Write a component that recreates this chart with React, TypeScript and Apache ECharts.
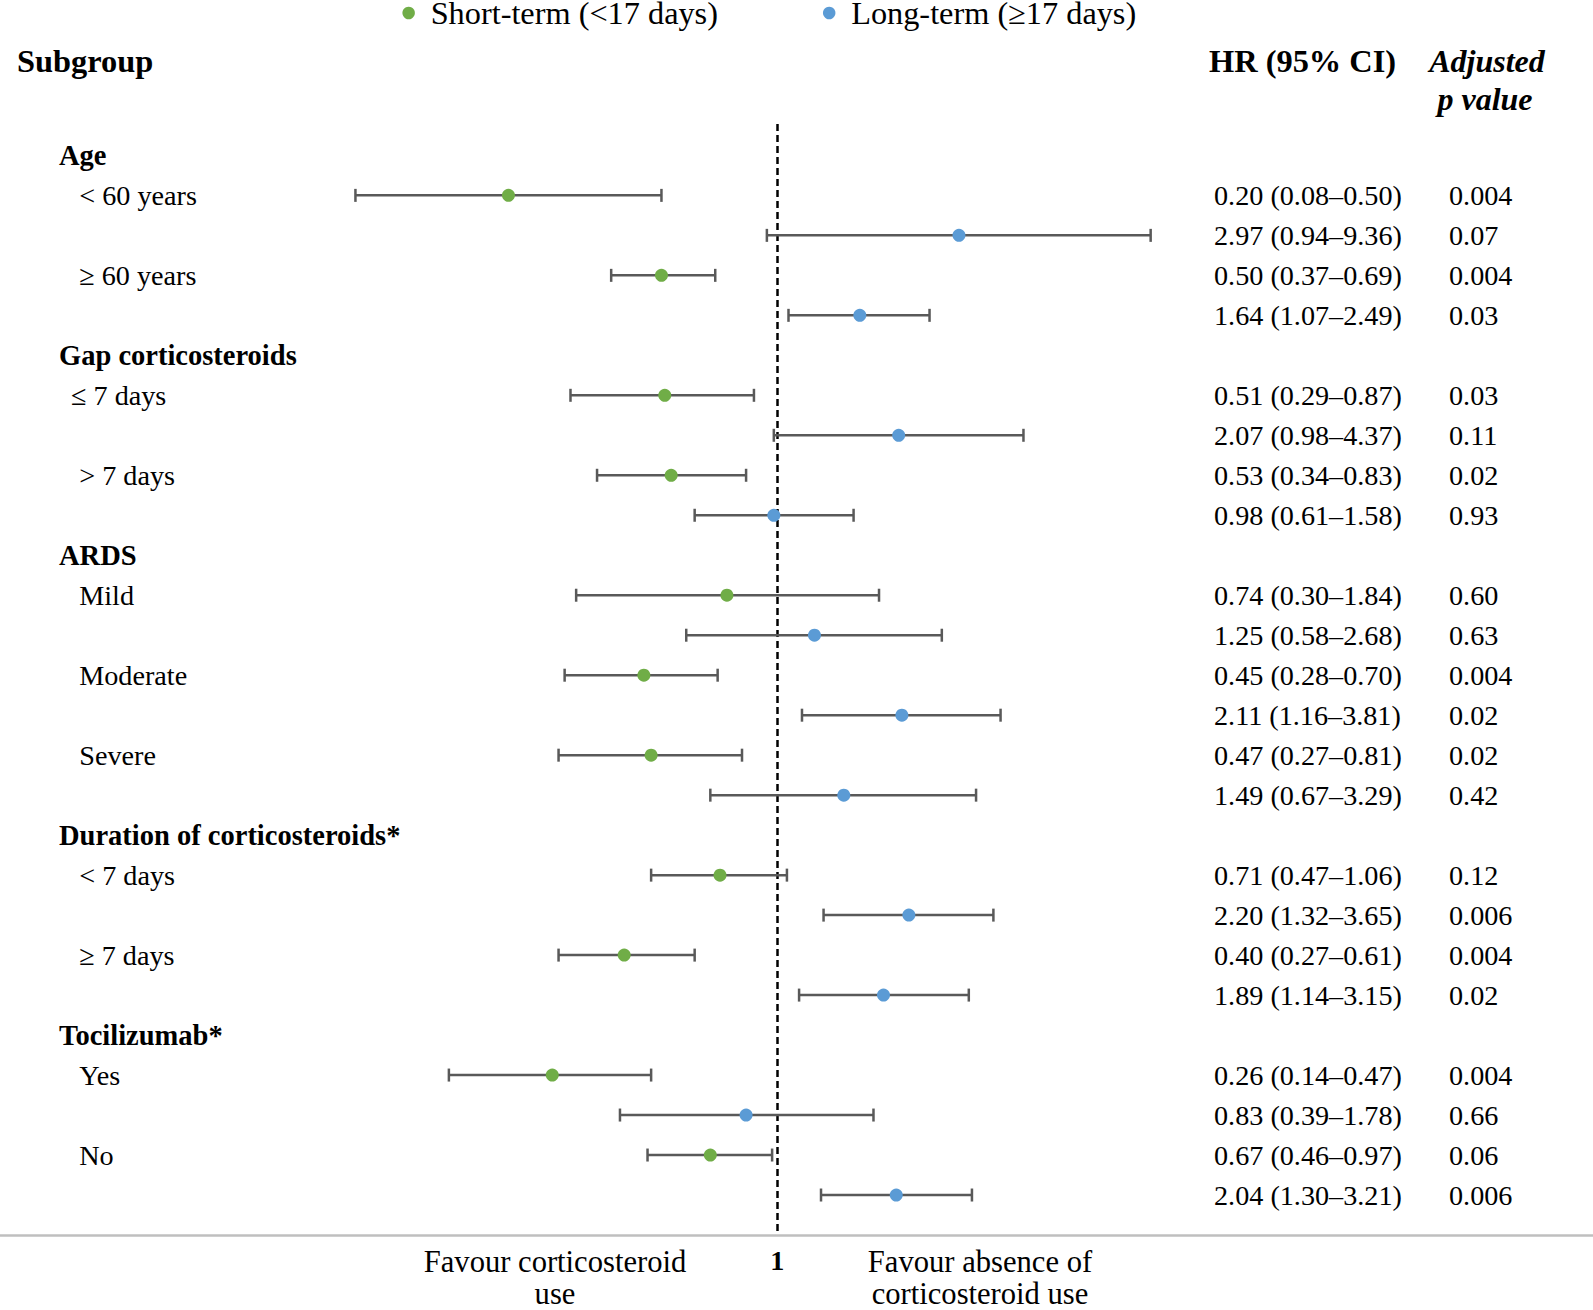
import React, { useEffect, useRef } from "react";
import * as echarts from "echarts";

// ---------- data ----------
const groupNames = ["Age", "Gap corticosteroids", "ARDS", "Duration of corticosteroids*", "Tocilizumab*"];
const subgroupNames = [
  ["< 60 years", "≥ 60 years"],
  ["≤ 7 days", "> 7 days"],
  ["Mild", "Moderate", "Severe"],
  ["< 7 days", "≥ 7 days"],
  ["Yes", "No"],
];

const shortName = "Short-term (<17 days)";
const longName = "Long-term (≥17 days)";

const shortHR = [0.2, 0.5, 0.51, 0.53, 0.74, 0.45, 0.47, 0.71, 0.4, 0.26, 0.67];
const shortLow = [0.08, 0.37, 0.29, 0.34, 0.3, 0.28, 0.27, 0.47, 0.27, 0.14, 0.46];
const shortHigh = [0.5, 0.69, 0.87, 0.83, 1.84, 0.7, 0.81, 1.06, 0.61, 0.47, 0.97];
const shortP = ["0.004", "0.004", "0.03", "0.02", "0.60", "0.004", "0.02", "0.12", "0.004", "0.004", "0.06"];

const longHR = [2.97, 1.64, 2.07, 0.98, 1.25, 2.11, 1.49, 2.2, 1.89, 0.83, 2.04];
const longLow = [0.94, 1.07, 0.98, 0.61, 0.58, 1.16, 0.67, 1.32, 1.14, 0.39, 1.3];
const longHigh = [9.36, 2.49, 4.37, 1.58, 2.68, 3.81, 3.29, 3.65, 3.15, 1.78, 3.21];
const longP = ["0.07", "0.03", "0.11", "0.93", "0.63", "0.02", "0.42", "0.006", "0.02", "0.66", "0.006"];

const refValue = 1;

// ---------- layout ----------
const FONT = "'Liberation Serif', 'Times New Roman', serif";
const GREEN = "#70AD47";
const BLUE = "#5B9BD5";
const BAR = "#595959";

const W = 1593;
const H = 1310;
const gridLeft = 0;
const gridRightPx = 1593;
const onePx = 777.2;
const pxPerDecade = 384.5;
const xMin = Math.pow(10, -(onePx - gridLeft) / pxPerDecade);
const xMax = Math.pow(10, (gridRightPx - onePx) / pxPerDecade);
const gridTop = 124;
const axisY = 1235;

const ROW_FS = 28.2;
const GROUP_FS = 28.5;
const HEAD_FS = 32.4;
const LEG_FS = 32.3;
const FOOT_FS = 30.6;

type Row = { kind: "header" | "short" | "long"; label: string; hr?: number; lo?: number; hi?: number; p?: string };

function buildRows(): Row[] {
  const rows: Row[] = [];
  let k = 0;
  groupNames.forEach((g, gi) => {
    rows.push({ kind: "header", label: g });
    subgroupNames[gi].forEach((s) => {
      rows.push({ kind: "short", label: s, hr: shortHR[k], lo: shortLow[k], hi: shortHigh[k], p: shortP[k] });
      rows.push({ kind: "long", label: "", hr: longHR[k], lo: longLow[k], hi: longHigh[k], p: longP[k] });
      k++;
    });
  });
  return rows;
}

const fmt = (v: number) => v.toFixed(2);

export default function App() {
  const ref = useRef<HTMLDivElement>(null);

  useEffect(() => {
    if (!ref.current) return;
    const chart = echarts.init(ref.current, undefined, { renderer: "svg" });
    const rows = buildRows();
    const nRows = rows.length;

    const barData: number[][] = [];
    const shortData: number[][] = [];
    const longData: number[][] = [];
    rows.forEach((r, i) => {
      if (r.kind === "header") return;
      barData.push([r.lo as number, r.hi as number, i]);
      (r.kind === "short" ? shortData : longData).push([r.hr as number, i]);
    });

    const textStyleBase = { fontFamily: FONT, fill: "#000" };

    const option: any = {
      animation: false,
      backgroundColor: "#fff",
      legend: {
        data: [shortName, longName],
        left: 402.4,
        top: -3,
        padding: 0,
        icon: "circle",
        itemWidth: 34,
        itemHeight: 12.5,
        itemGap: 105,
        selectedMode: false,
        textStyle: { fontFamily: FONT, fontSize: LEG_FS, lineHeight: 26, color: "#000" },
      },
      grid: { left: gridLeft, width: gridRightPx - gridLeft, top: gridTop, bottom: H - axisY },
      xAxis: {
        type: "log",
        logBase: 10,
        min: xMin,
        max: xMax,
        position: "bottom",
        axisLine: { show: true, onZero: false, lineStyle: { color: "#BFBFBF", width: 2.5 } },
        axisTick: { show: false },
        axisLabel: { show: false },
        splitLine: { show: false },
      },
      yAxis: {
        type: "value",
        inverse: true,
        min: -0.785,
        max: nRows,
        show: false,
        splitLine: { show: false },
      },
      series: [
        {
          type: "custom",
          name: "ci",
          data: barData,
          encode: { x: [0, 1], y: 2 },
          silent: true,
          renderItem: (params: any, api: any) => {
            const a = api.coord([api.value(0), api.value(2)]);
            const b = api.coord([api.value(1), api.value(2)]);
            const h = 6.5;
            const style = { stroke: BAR, lineWidth: 2.5 };
            return {
              type: "group",
              children: [
                { type: "line", shape: { x1: a[0], y1: a[1], x2: b[0], y2: b[1] }, style },
                { type: "line", shape: { x1: a[0], y1: a[1] - h, x2: a[0], y2: a[1] + h }, style },
                { type: "line", shape: { x1: b[0], y1: b[1] - h, x2: b[0], y2: b[1] + h }, style },
              ],
            };
          },
          z: 3,
        },
        {
          type: "scatter",
          name: shortName,
          data: shortData,
          symbol: "circle",
          symbolSize: 13,
          itemStyle: { color: GREEN, opacity: 1 },
          z: 4,
          markLine: {
            silent: true,
            symbol: ["none", "none"],
            label: { show: false },
            lineStyle: { color: "#000", type: [7, 4], width: 2.5 },
            data: [{ xAxis: refValue }],
            z: 2,
          },
        },
        {
          type: "scatter",
          name: longName,
          data: longData,
          symbol: "circle",
          symbolSize: 13,
          itemStyle: { color: BLUE, opacity: 1 },
          z: 4,
        },
        {
          type: "custom",
          name: "texts",
          data: rows.map((_, i) => [refValue, i]),
          encode: { x: 0, y: 1 },
          silent: true,
          renderItem: (params: any, api: any) => {
            const i = params.dataIndex;
            const r = rows[i];
            const y = api.coord([refValue, i])[1];
            const children: any[] = [];
            if (r.kind === "header") {
              children.push({
                type: "text",
                x: 59,
                y,
                style: { ...textStyleBase, text: r.label, fontSize: GROUP_FS, fontWeight: "bold", align: "left", verticalAlign: "middle" },
              });
            } else {
              if (r.label) {
                const indent = r.label.startsWith("≤") ? 71 : 79.2;
                children.push({
                  type: "text",
                  x: indent,
                  y,
                  style: { ...textStyleBase, text: r.label, fontSize: ROW_FS, align: "left", verticalAlign: "middle" },
                });
              }
              children.push({
                type: "text",
                x: 1214,
                y,
                style: {
                  ...textStyleBase,
                  text: `${fmt(r.hr as number)} (${fmt(r.lo as number)}–${fmt(r.hi as number)})`,
                  fontSize: ROW_FS,
                  align: "left",
                  verticalAlign: "middle",
                },
              });
              children.push({
                type: "text",
                x: 1449,
                y,
                style: { ...textStyleBase, text: r.p, fontSize: ROW_FS, align: "left", verticalAlign: "middle" },
              });
            }
            return { type: "group", children };
          },
          z: 5,
        },
        {
          type: "custom",
          name: "refLabel",
          data: [[refValue, nRows]],
          encode: { x: 0, y: 1 },
          silent: true,
          renderItem: (params: any, api: any) => {
            const p = api.coord([api.value(0), api.value(1)]);
            return {
              type: "text",
              x: p[0],
              y: p[1] + 25,
              style: { ...textStyleBase, text: String(refValue), fontSize: ROW_FS, fontWeight: "bold", align: "center", verticalAlign: "middle" },
            };
          },
          z: 5,
        },
      ],
      graphic: [
        { type: "text", x: 17, y: 61, style: { ...textStyleBase, text: "Subgroup", fontSize: HEAD_FS, fontWeight: "bold", align: "left", verticalAlign: "middle" } },
        { type: "text", x: 1209, y: 61, style: { ...textStyleBase, text: "HR (95% CI)", fontSize: HEAD_FS, fontWeight: "bold", align: "left", verticalAlign: "middle" } },
        {
          type: "text",
          x: 1487,
          y: 61,
          style: { ...textStyleBase, text: "Adjusted", fontSize: 32, fontWeight: "bold", fontStyle: "italic", align: "center", verticalAlign: "middle" },
        },
        {
          type: "text",
          x: 1485,
          y: 98.5,
          style: { ...textStyleBase, text: "p value", fontSize: 32, fontWeight: "bold", fontStyle: "italic", align: "center", verticalAlign: "middle" },
        },
        { type: "text", x: 555, y: 1262, style: { ...textStyleBase, text: "Favour corticosteroid", fontSize: FOOT_FS, lineHeight: 24, align: "center", verticalAlign: "middle" } },
        { type: "text", x: 555, y: 1294, style: { ...textStyleBase, text: "use", fontSize: FOOT_FS, lineHeight: 24, align: "center", verticalAlign: "middle" } },
        { type: "text", x: 980, y: 1262, style: { ...textStyleBase, text: "Favour absence of", fontSize: FOOT_FS, lineHeight: 24, align: "center", verticalAlign: "middle" } },
        { type: "text", x: 980, y: 1294, style: { ...textStyleBase, text: "corticosteroid use", fontSize: FOOT_FS, lineHeight: 24, align: "center", verticalAlign: "middle" } },
      ],
    };

    chart.setOption(option);
    return () => chart.dispose();
  }, []);

  return (
    <div
      ref={ref}
      style={{ position: "fixed", left: 0, top: 0, width: W, height: H, background: "#fff" }}
    />
  );
}
